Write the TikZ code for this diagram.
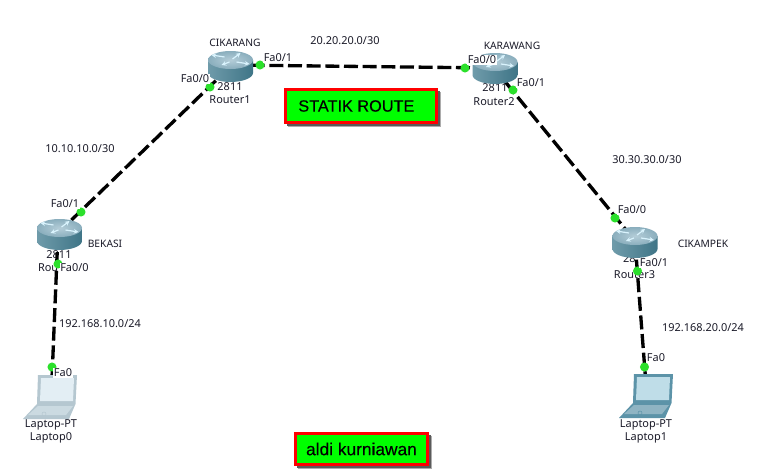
\documentclass[tikz,border=0pt]{standalone}
\usepackage{fontspec}
\setmainfont{Noto Sans}
\newfontfamily\boxfont[FakeBold=0.3]{Liberation Sans}
\usetikzlibrary{arrows.meta}
\definecolor{portgreen}{HTML}{2BE02B}
\definecolor{labelink}{HTML}{1A1A28}
\definecolor{boxshadow}{HTML}{5A5A5A}
\definecolor{bodyleft}{HTML}{6F9BAA}
\definecolor{bodymid}{HTML}{BAD3DB}
\definecolor{bodyright}{HTML}{3F7587}
\definecolor{topin}{HTML}{B4CDD8}
\definecolor{topout}{HTML}{8AAEBD}
\tikzset{
  lbl/.style={font=\fontsize{8.2}{9}\selectfont,text=labelink,inner sep=0.6pt},
  portlbl/.style={lbl,fill=white},
  citylbl/.style={portlbl,font=\fontsize{7.7}{9}\selectfont},
  link/.style={line width=2.5pt,black,dash pattern=on 10.5pt off 3.5pt},
  portdot/.style={circle,fill=portgreen,inner sep=0pt,minimum size=6.8pt},
  titlebox/.style={draw=red,line width=2.25pt,fill=green,text=black},
  pics/routericon/.style={code={
    \shade [left color=bodyleft,middle color=bodymid,right color=bodyright]
      (-22.5,0) -- (-22.5,13) .. controls (-22.5,18) and (-12,22) .. (0,22)
      .. controls (12,22) and (22.5,18) .. (22.5,13) -- (22.5,0) -- cycle;
    \shade [inner color=topin,outer color=topout] (0,0) ellipse [x radius=22.5,y radius=9];
    \foreach \ax/\ay/\bx/\by in {-6/-3/-19/-5, 2/-1/10/-7, -1/2/-9/5, 6/2/19/4}
      \draw [-{Stealth[length=3.5pt,width=3.5pt]},white!85!cyan,line width=0.9pt] (\ax,\ay) -- (\bx,\by);
  }},
  pics/laptopicon/.style n args={4}{code={
    \fill [#1] (0,0) -- (39,0) -- (37.5,29) -- (31,44) -- (-15,44) -- (-1,29) -- cycle;
    \fill [#2] (3,3) -- (36,3) -- (35,26) -- (2,26) -- cycle;
    \fill [#3] (0,31) -- (35,31) -- (28,40) -- (-10,40) -- cycle;
    \draw [#4] (6,39) circle [radius=2];
  }}
}
\definecolor{paleedge}{HTML}{B5C7D0}
\definecolor{palescreen}{HTML}{E3EEF4}
\definecolor{palekeys}{HTML}{CBDAE1}
\definecolor{deepedge}{HTML}{5C93A8}
\definecolor{deepscreen}{HTML}{BFDDE8}
\definecolor{deepkeys}{HTML}{8FB4C3}
\begin{document}
\begin{tikzpicture}[x=0.75pt,y=-0.75pt]
\useasboundingbox (0,0) rectangle (765,471);
\fill [white] (0,0) rectangle (765,471);

\node [lbl] (r0model) at (59,255) {2811};
\node [lbl,anchor=west] (r0name) at (37,268) {Rou};
\node [lbl] (r1model) at (230,87) {2811};
\node [lbl] (r1name) at (230,100) {Router1};
\node [lbl] (r2model) at (495,88) {2811};
\node [lbl] (r2name) at (494,102) {Router2};
\node [lbl,anchor=west] (r3model) at (622,259) {28};
\node [lbl] (r3name) at (634.5,275) {Router3};

\coordinate (router0) at (58,233);
\coordinate (router1) at (232,65);
\coordinate (router2) at (494,68);
\coordinate (router3) at (635,241);
\coordinate (laptop0) at (52,378);
\coordinate (laptop1) at (645.5,378);

\draw [link] (laptop0) -- (router0);
\draw [link] (router0) -- (router1);
\draw [link] (router1) -- (router2);
\draw [link] (router2) -- (router3);
\draw [link] (router3) -- (laptop1);

\pic at (59.5,228) {routericon};
\pic at (230.5,60) {routericon};
\pic at (495,62) {routericon};
\pic at (635,236) {routericon};
\pic at (38,375) {laptopicon={paleedge}{palescreen}{palekeys}{paleedge}};
\pic at (634,374) {laptopicon={deepedge}{deepscreen}{deepkeys}{deepedge}};

\node [portdot] (r0fa1) at (81,212) {};
\node [portdot] (r0fa0) at (58,264) {};
\node [portdot] (r1fa0) at (210,87) {};
\node [portdot] (r1fa1) at (260,65) {};
\node [portdot] (r2fa0) at (465,68) {};
\node [portdot] (r2fa1) at (513,90) {};
\node [portdot] (r3fa0) at (615,218) {};
\node [portdot] (r3fa1) at (637.5,271) {};
\node [portdot] (l0fa0) at (52,367) {};
\node [portdot] (l1fa0) at (644.5,367) {};

\node [portlbl] (t1) at (65,204) {Fa0/1};
\node [portlbl] (t2) at (74.5,268) {Fa0/0};
\node [portlbl] (t3) at (195,79) {Fa0/0};
\node [portlbl] (t4) at (278,58) {Fa0/1};
\node [portlbl] (t5) at (482,60) {Fa0/0};
\node [portlbl] (t6) at (531,83) {Fa0/1};
\node [portlbl] (t7) at (632,210) {Fa0/0};
\node [portlbl] (t8) at (654,263) {Fa0/1};
\node [portlbl] (t9) at (63,373) {Fa0};
\node [portlbl] (t10) at (656,358) {Fa0};

\node [citylbl] (bekasi) at (105,244) {BEKASI};
\node [citylbl] (cikarang) at (235,43) {CIKARANG};
\node [citylbl] (karawang) at (512,46) {KARAWANG};
\node [citylbl] (cikampek) at (703,244) {CIKAMPEK};

\node [portlbl] (net1) at (80,149) {10.10.10.0/30};
\node [portlbl] (net2) at (345,41) {20.20.20.0/30};
\node [portlbl] (net3) at (647,160) {30.30.30.0/30};
\node [portlbl] (net4) at (100,324) {192.168.10.0/24};
\node [portlbl] (net5) at (703,328) {192.168.20.0/24};

\node [lbl] (l0type) at (51,425) {Laptop-PT};
\node [lbl] (l0name) at (51,438) {Laptop0};
\node [lbl] (l1type) at (646,425) {Laptop-PT};
\node [lbl] (l1name) at (646,438) {Laptop1};

\fill [boxshadow!50] (288,92) rectangle (441,127);
\fill [boxshadow] (287,91) rectangle (440,126);
\node [titlebox,minimum width=113pt,minimum height=24.75pt,font=\boxfont\fontsize{12.2}{14}\selectfont] (title) at (361,106) {STATIK ROUTE\kern7pt};
\fill [boxshadow!50] (298,436) rectangle (432,469);
\fill [boxshadow] (297,435) rectangle (431,468);
\node [titlebox,minimum width=99pt,minimum height=23.25pt,font=\boxfont\fontsize{13}{14}\selectfont] (credit) at (361.5,449) {aldi kurniawan};
\end{tikzpicture}
\end{document}
